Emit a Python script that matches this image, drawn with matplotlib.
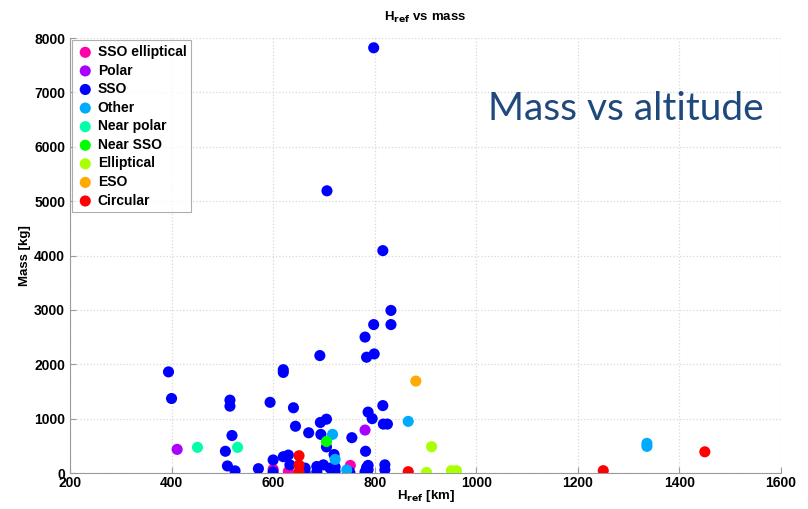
import matplotlib
matplotlib.use('Agg')
import matplotlib.pyplot as plt

# orbit categories, altitude [km] and mass [kg]
labels = ['SSO elliptical', 'Polar', 'SSO', 'Other', 'Near polar',
          'Near SSO', 'Elliptical', 'ESO', 'Circular']
colors = ['#ff00aa', '#aa00ff', '#0000ff', '#00aaff', '#00ffaa',
          '#00ff00', '#aaff00', '#ffaa00', '#ff0000']

sso_ell_h = [600, 630, 752]
sso_ell_m = [70, 30, 140]
polar_h = [411, 781]
polar_m = [435, 790]
sso_h = [798, 706, 816, 832, 832, 798, 781, 799, 784, 692, 394, 620, 620, 400,
         515, 515, 594, 640, 787, 816, 795, 693, 705, 817, 825, 644, 670, 519,
         755, 506, 510, 525, 571, 600, 620, 630, 633, 600, 663, 663, 686, 686,
         699, 712, 722, 720, 705, 722, 751, 781, 787, 787, 820, 820, 694, 782, 784]
sso_m = [7820, 5190, 4090, 2990, 2730, 2730, 2500, 2190, 2130, 2160, 1860, 1900,
         1850, 1370, 1340, 1230, 1300, 1200, 1120, 1240, 1000, 930, 990, 900, 900,
         860, 740, 690, 650, 400, 130, 40, 80, 240, 300, 330, 150, 20, 90, 10, 120,
         20, 150, 90, 30, 340, 480, 110, 10, 20, 140, 60, 150, 60, 710, 400, 100]
other_h = [866, 717, 722, 745, 1336, 1336]
other_m = [950, 711, 250, 55, 545, 490]
near_polar_h = [451, 530]
near_polar_m = [472, 472]
near_sso_h = [705]
near_sso_m = [580]
elliptical_h = [912, 902, 951, 961]
elliptical_m = [484, 10, 43, 43]
eso_h = [881]
eso_m = [1691]
circular_h = [651, 651, 651, 866, 1250, 1450]
circular_m = [318, 147, 20, 24, 43, 390]

series = [(sso_ell_h, sso_ell_m), (polar_h, polar_m), (sso_h, sso_m),
          (other_h, other_m), (near_polar_h, near_polar_m),
          (near_sso_h, near_sso_m), (elliptical_h, elliptical_m),
          (eso_h, eso_m), (circular_h, circular_m)]

plt.rcParams['font.family'] = ['Liberation Sans', 'DejaVu Sans']
plt.rcParams['font.weight'] = 'bold'

fig = plt.figure(figsize=(8.08, 5.09), dpi=100)
ax = fig.add_axes([0.0866, 0.0707, 0.88, 0.8546])

for (h, m), lab, c in zip(series, labels, colors):
    ax.scatter(h, m, s=64, c=c, edgecolors='none', label=lab, zorder=3)

ax.set_xlim(200, 1600)
ax.set_ylim(0, 8000)
ax.set_xticks(range(200, 1601, 200))
ax.set_yticks(range(0, 8001, 1000))
ax.grid(True, color='#d8d8d8', linestyle=':', linewidth=0.9)
for side in ['top', 'right']:
    ax.spines[side].set_visible(False)
for side in ['left', 'bottom']:
    ax.spines[side].set_color('#9a9a9a')
ax.tick_params(direction='in', length=4, color='#9a9a9a', labelsize=10)
ax.tick_params(axis='x', pad=2)
for t in ax.get_xticklabels() + ax.get_yticklabels():
    t.set_fontweight('bold')

ax.set_title('H$_{\\mathbf{ref}}$ vs mass', fontsize=9.5, fontweight='bold', pad=12)
ax.set_xlabel('H$_{\\mathbf{ref}}$ [km]', fontsize=9.5, fontweight='bold', labelpad=-1)
ax.set_ylabel('Mass [kg]', fontsize=9.5, fontweight='bold', labelpad=2)

leg = ax.legend(loc='upper left', fontsize=10, frameon=True, fancybox=False,
                handletextpad=0.3, borderpad=0.35, labelspacing=0.33,
                handlelength=1.2, borderaxespad=0.15, scatterpoints=1)
leg.get_frame().set_edgecolor('#9a9a9a')
leg.get_frame().set_linewidth(0.8)
for t in leg.get_texts():
    t.set_fontweight('bold')

fig.text(0.604, 0.765, 'Mass vs altitude', fontsize=28, color='#1f497d',
         family=['Lato', 'DejaVu Sans'], fontweight='normal')

plt.savefig('out.png', dpi=100)
